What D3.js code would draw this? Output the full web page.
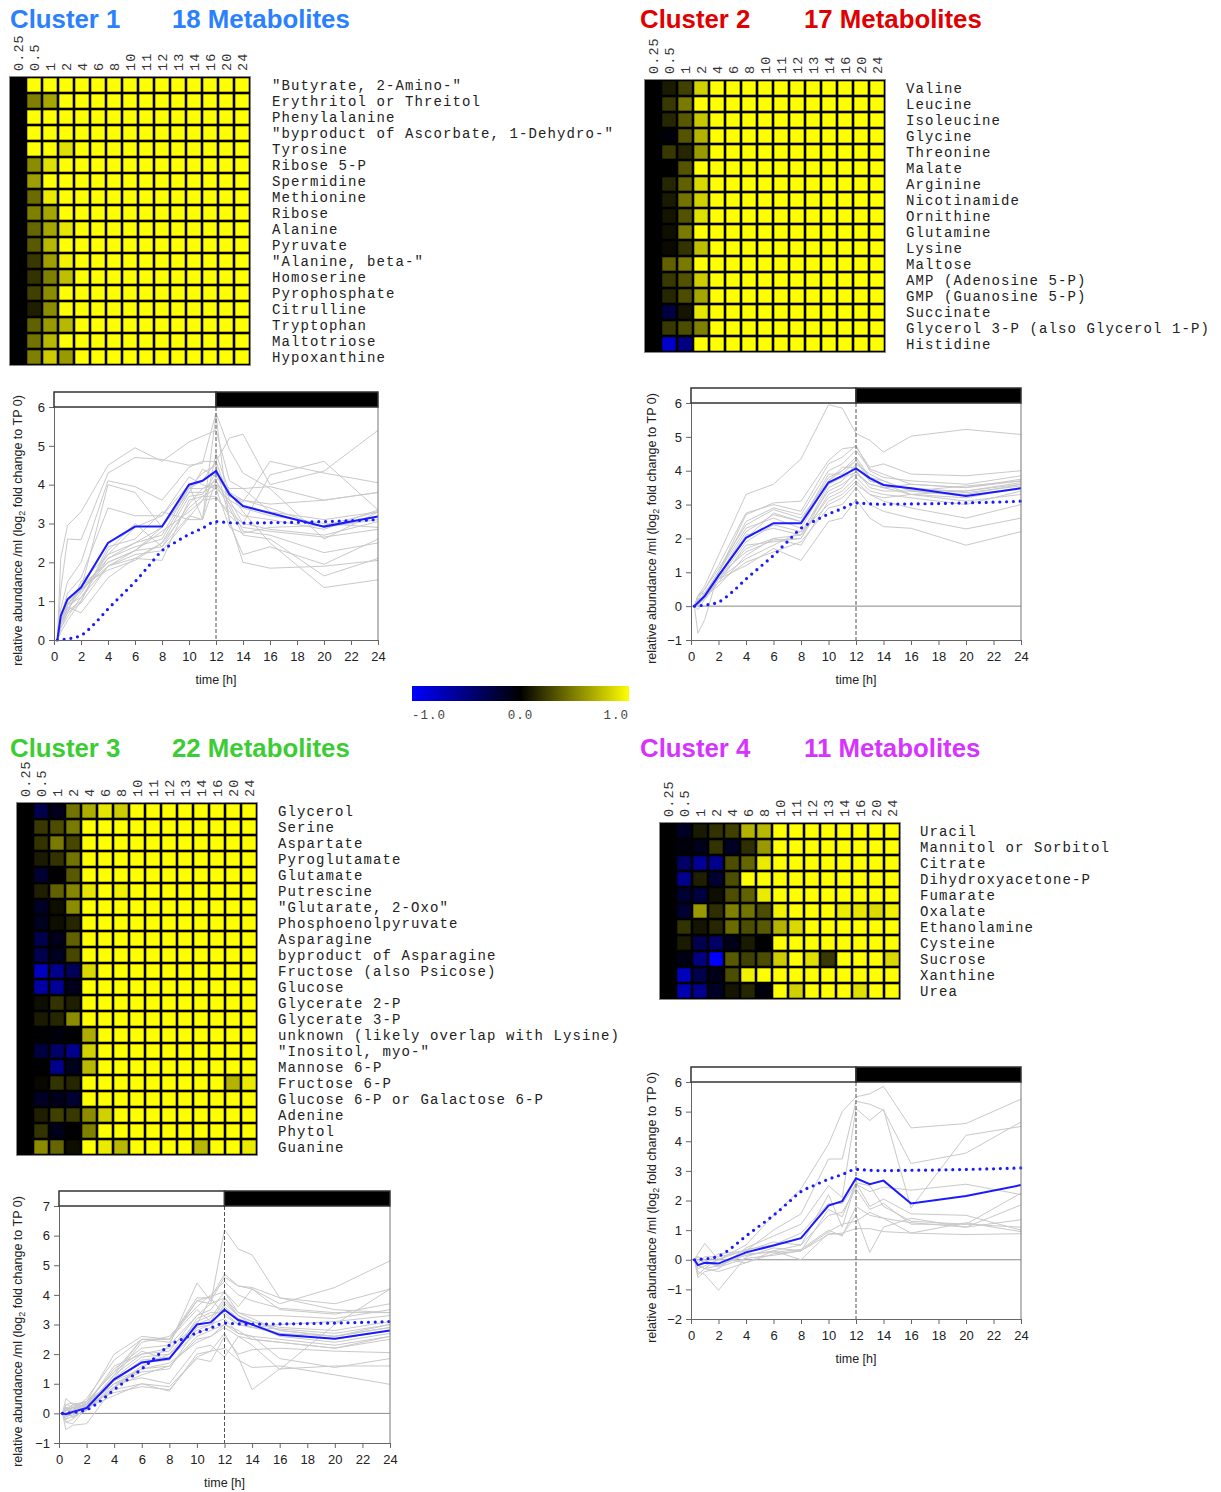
<!DOCTYPE html>
<html><head><meta charset="utf-8">
<script src="https://cdn.jsdelivr.net/npm/d3@7"></script>
<style>body{margin:0;background:#fff}svg{display:block}</style>
</head><body>
<script>
// ---------------- DATA ----------------
const timePoints = [0.25,0.5,1,2,4,6,8,10,11,12,13,14,16,20,24];
const timeLabels = ["0.25","0.5","1","2","4","6","8","10","11","12","13","14","16","20","24"];
const xTickValues = [0,2,4,6,8,10,12,14,16,18,20,22,24];
const colorTicks = ["-1.0","0.0","1.0"];

const refTimes  = [0.25,0.5,1,2,3,4,5,6,7,8,9,10,11,12,13,14,16,18,20,22,24];
const refValues = [0,0.01,0.03,0.12,0.42,0.8,1.15,1.5,1.9,2.3,2.52,2.72,2.88,3.05,3.02,3.01,3.02,3.03,3.05,3.07,3.1];

const c1Names = ["\"Butyrate, 2-Amino-\"","Erythritol or Threitol","Phenylalanine","\"byproduct of Ascorbate, 1-Dehydro-\"","Tyrosine","Ribose 5-P","Spermidine","Methionine","Ribose","Alanine","Pyruvate","\"Alanine, beta-\"","Homoserine","Pyrophosphate","Citrulline","Tryptophan","Maltotriose","Hypoxanthine"];
const c1Heat = [
[0,1,1,1,1,1,1,1,1,1,1,1,1,1,1],
[0,0.5,0.65,1,1,1,1,1,1,1,1,1,1,1,1],
[0,1,1,1,1,1,1,1,1,1,1,1,1,1,1],
[0,1,1,1,1,1,1,1,1,1,1,1,1,1,1],
[0,1,1,0.88,1,1,1,1,1,1,1,1,1,1,1],
[0,0.55,0.88,1,1,1,1,1,1,1,1,1,1,1,1],
[0,0.62,1,1,1,1,1,1,1,1,1,1,1,1,1],
[0,0.42,0.92,1,1,1,1,1,1,1,1,1,1,1,1],
[0,0.5,0.65,1,1,1,1,1,1,1,1,1,1,1,1],
[0,0.4,0.65,0.9,1,1,1,1,1,1,1,1,1,1,1],
[0,0.35,0.72,1,1,1,1,1,1,1,1,1,1,1,1],
[0,0.22,0.62,0.95,1,1,1,1,1,1,1,1,1,1,1],
[0,0.2,0.5,0.75,1,1,1,1,1,1,1,1,1,1,1],
[0,0.25,0.55,1,1,1,1,1,1,1,1,1,1,1,1],
[0,0.12,0.55,1,1,1,1,1,1,1,1,1,1,1,1],
[0,0.38,0.6,0.72,1,1,1,1,1,1,1,1,1,1,1],
[0,0.45,0.72,1,1,1,1,1,1,1,1,1,1,1,1],
[0,0.5,0.8,0.6,1,1,1,1,1,1,1,1,1,1,1]];
const c1Lines = [
[0,2.1,2.95,3.3,4.5,4.95,4.6,5.1,5.25,5.4,4.1,3.9,3.95,3.6,3.8],
[0,1.3,2.6,2.58,4.3,4.7,4.65,4.5,4.55,5.85,4.9,4.3,3.9,2.6,3.3],
[0,0.8,1.5,2.0,4.1,3.95,3.6,4.45,4.6,4.6,5.2,5.3,4.0,4.35,5.4],
[0,0.5,1.0,1.3,4.0,3.8,2.9,3.8,3.8,4.0,3.7,3.55,4.6,4.3,4.05],
[0,0.6,1.2,1.6,3.4,3.2,3.2,4.2,4.0,3.9,3.6,3.0,4.25,4.6,3.35],
[0,0.4,0.8,1.2,2.2,2.9,3.2,4.0,3.1,5.8,3.0,2.2,2.4,1.95,2.6],
[0,0.5,0.9,1.1,2.1,2.5,2.7,3.9,4.3,4.5,3.1,2.0,1.85,1.9,2.05],
[0,0.4,0.8,1.3,2.1,2.4,2.6,3.8,4.4,4.2,3.8,3.3,2.5,1.35,1.55],
[0,0.5,0.9,1.3,1.9,2.3,2.4,3.5,3.9,4.0,3.4,2.7,2.6,1.65,2.1],
[0,0.3,0.7,0.95,1.9,2.1,2.5,3.7,3.75,4.3,3.7,3.6,3.5,3.6,3.8],
[0,0.6,0.9,1.4,2.0,2.3,2.8,3.3,3.6,4.2,3.9,3.9,3.3,3.1,3.3],
[0,0.5,0.75,1.0,2.4,2.6,3.3,3.1,3.1,4.1,3.5,2.8,2.7,2.25,2.5],
[0,0.5,0.85,0.7,1.6,2.1,2.05,3.6,3.7,3.7,3.2,2.9,2.8,2.65,2.85],
[0,0.3,0.6,1.1,1.9,2.2,2.3,3.15,3.6,3.65,3.3,3.0,2.85,2.7,3.05],
[0,0.7,1.0,1.4,1.8,2.05,2.5,3.4,3.7,3.9,2.9,2.75,2.9,2.95,3.3],
[0,0.4,0.7,1.5,2.2,2.5,2.9,3.9,4.1,4.6,3.6,3.4,3.2,3.0,2.9],
[0,0.55,0.95,1.25,2.0,2.3,2.9,3.9,3.9,4.1,3.5,3.2,3.1,2.85,3.35],
[0,0.2,0.5,1.0,2.3,3.0,2.4,3.2,3.1,4.8,3.8,3.6,3.4,2.9,3.1]];
const c1Mean = [0,0.62,1.05,1.35,2.5,2.92,2.92,4.0,4.1,4.35,3.75,3.45,3.27,2.92,3.18];

const c2Names = ["Valine","Leucine","Isoleucine","Glycine","Threonine","Malate","Arginine","Nicotinamide","Ornithine","Glutamine","Lysine","Maltose","AMP (Adenosine 5-P)","GMP (Guanosine 5-P)","Succinate","Glycerol 3-P (also Glycerol 1-P)","Histidine"];
const c2Heat = [
[0,0.1,0.25,0.82,1,1,1,1,1,1,1,1,1,1,1],
[0,0.22,0.48,1,1,1,1,1,1,1,1,1,1,1,1],
[0,0.15,0.35,0.78,1,1,1,1,1,1,1,1,1,1,1],
[0,-0.03,0.33,0.7,1,1,1,1,1,1,1,1,1,1,1],
[0,0.22,0.15,0.6,1,1,1,1,1,1,1,1,1,1,1],
[0,0,0.33,1,1,1,1,1,1,1,1,1,1,1,1],
[0,0.15,0.38,0.85,1,1,1,1,1,1,1,1,1,1,1],
[0,0.1,0.45,0.82,1,1,1,1,1,1,1,1,1,1,1],
[0,0.08,0.32,0.88,1,1,1,1,1,1,1,1,1,1,1],
[0,0.06,0.48,1,1,1,1,1,1,1,1,1,1,1,1],
[0,0.04,0.2,0.75,1,1,1,1,1,1,1,1,1,1,1],
[0,0.38,0.48,1,1,1,1,1,1,1,1,1,1,1,1],
[0,0.22,0.32,0.8,1,1,1,1,1,1,1,1,1,1,1],
[0,0.15,0.3,0.65,1,1,1,1,1,1,1,1,1,1,1],
[0,-0.25,0.08,0.9,1,1,1,1,1,1,1,1,1,1,1],
[0,0.22,0.3,0.5,1,1,1,1,1,1,1,1,1,1,1],
[0,-0.8,-0.5,1,1,1,1,1,1,1,1,1,1,1,1]];
const c2Lines = [
[0,0.3,0.6,1.5,3.3,3.6,4.35,5.95,5.85,5.1,4.9,4.55,5.02,5.22,5.07],
[0,-0.8,-0.4,1.0,2.7,3.05,3.1,4.3,4.65,4.7,4.1,4.2,3.9,3.85,4.0],
[0,0.2,0.5,1.2,2.75,3.0,2.8,4.2,4.4,4.75,4.0,3.8,3.7,3.6,3.85],
[0,0.1,0.4,1.0,2.5,2.9,2.7,4.0,4.2,4.6,4.05,3.9,3.6,3.5,3.75],
[0,0.3,0.5,1.1,2.4,2.85,2.6,3.7,4.0,4.4,3.8,3.5,3.3,3.4,3.6],
[0,0.2,0.3,0.9,2.2,2.7,2.5,3.9,3.9,4.3,3.7,3.6,3.3,3.2,3.5],
[0,-0.1,0.2,0.8,1.9,2.4,2.2,3.4,3.6,3.9,3.6,3.5,3.5,3.35,3.55],
[0,0.1,0.2,0.7,1.8,1.9,2.0,3.3,3.5,4.0,3.5,3.4,3.4,3.3,3.6],
[0,0.0,0.3,0.6,1.5,2.0,2.1,3.2,3.4,3.8,3.4,3.3,3.2,3.0,3.4],
[0,0.1,0.2,0.8,1.2,1.7,1.35,2.5,2.6,3.15,2.6,2.35,2.3,1.8,2.2],
[0,0.2,0.3,0.7,1.3,1.6,1.9,2.9,3.0,3.5,3.0,2.8,2.6,2.28,2.6],
[0,0.3,0.4,0.8,1.4,1.8,2.2,3.0,3.2,3.6,3.3,3.1,2.9,2.6,3.0],
[0,0.1,0.3,0.9,1.6,1.95,2.0,3.5,3.7,4.2,3.9,3.7,3.4,3.55,3.7],
[0,0.0,0.4,0.9,2.1,2.3,2.1,3.6,3.8,3.95,3.6,3.5,3.6,3.5,3.7],
[0,0.15,0.35,1.0,2.3,2.6,2.3,3.7,4.1,4.1,3.7,3.6,3.45,3.4,3.65],
[0,0.2,0.25,0.8,1.7,2.0,1.8,3.1,3.3,3.7,3.3,3.2,3.3,3.1,3.3],
[0,0.05,0.3,0.85,2.0,2.75,2.5,3.8,4.0,4.3,3.8,3.7,3.4,3.25,3.5]];
const c2Mean = [0,0.1,0.3,0.9,2.02,2.45,2.45,3.65,3.85,4.07,3.78,3.58,3.48,3.25,3.48];

const c3Names = ["Glycerol","Serine","Aspartate","Pyroglutamate","Glutamate","Putrescine","\"Glutarate, 2-Oxo\"","Phosphoenolpyruvate","Asparagine","byproduct of Asparagine","Fructose (also Psicose)","Glucose","Glycerate 2-P","Glycerate 3-P","unknown (likely overlap with Lysine)","\"Inositol, myo-\"","Mannose 6-P","Fructose 6-P","Glucose 6-P or Galactose 6-P","Adenine","Phytol","Guanine"];
const c3Heat = [
[0,-0.3,-0.1,0.45,0.68,0.9,0.8,1,1,1,1,1,1,1,1],
[0,0.22,0.3,0.48,1,1,1,1,1,1,1,1,1,1,1],
[0,0.2,0.48,0.28,1,1,1,1,1,1,1,1,1,1,1],
[0,0.1,0.2,0.45,1,1,1,1,1,1,1,1,1,1,1],
[0,-0.2,0,0.35,1,1,1,1,1,1,1,1,1,1,1],
[0,0.12,0.38,0.52,0.9,1,0.95,1,1,1,1,1,1,1,1],
[0,-0.15,0.05,0.55,1,1,1,1,1,1,1,1,1,1,1],
[0,-0.12,0.05,0.15,1,1,1,1,1,1,1,1,1,1,1],
[0,-0.3,-0.1,0.38,1,1,1,1,1,1,1,1,1,1,1],
[0,-0.3,-0.12,0.28,1,1,1,1,1,1,1,1,1,1,1],
[0,-0.75,-0.55,-0.35,0.85,1,1,1,1,1,1,1,1,1,1],
[0,-0.65,-0.6,-0.1,1,1,1,1,1,1,1,1,1,1,1],
[0,0.05,0.2,0.12,1,1,1,1,1,1,1,1,1,1,1],
[0,0.1,0.15,0.55,1,1,1,1,1,1,1,1,1,1,1],
[0,0,-0.05,0,0.68,1,1,1,1,1,1,1,1,1,1],
[0,-0.25,-0.4,-0.55,0.82,1,1,1,1,1,1,1,1,1,1],
[0,0,-0.55,-0.12,0.72,1,1,1,1,1,1,1,1,1,1],
[0,0.03,0.2,0.15,1,1,1,1,1,1,1,1,1,0.7,0.92],
[0,-0.15,-0.1,-0.2,1,1,1,1,1,1,1,1,1,1,1],
[0,0.12,0.25,0.22,0.55,0.82,1,1,1,1,1,1,1,1,1],
[0,0.2,-0.1,0,0.5,1,1,1,1,1,1,1,1,1,1],
[0,0.55,0.4,0.05,1,0.92,0.72,1,1,1,1,0.72,1,1,0.92]];
const c3Lines = [
[0,0.5,0.3,0.4,1.4,2.5,2.5,3.8,3.7,6.2,5.55,5.35,3.9,3.5,3.4],
[0,-0.55,-0.4,-0.35,0.9,1.5,2.3,4.4,3.8,4.6,4.3,4.2,3.7,4.25,5.15],
[0,0.3,0.2,0.4,2.0,2.6,2.5,3.9,3.9,4.7,4.3,4.25,3.9,3.7,4.2],
[0,0.2,0.1,0.5,1.8,2.5,2.4,3.8,3.95,4.1,3.6,4.2,3.5,3.35,3.7],
[0,-0.2,-0.1,0.1,1.2,2.4,2.6,3.6,4.0,4.45,4.0,3.8,3.55,3.4,3.4],
[0,0.1,0.2,0.3,1.5,2.2,2.3,3.3,3.7,3.9,3.4,3.3,3.3,3.2,3.5],
[0,-0.3,-0.2,0.2,1.3,2.0,2.2,3.0,3.9,3.3,3.0,2.9,3.0,3.1,3.3],
[0,0.1,0.3,0.2,1.1,1.8,1.9,2.7,2.9,3.7,3.3,3.1,2.8,2.6,2.9],
[0,0.0,-0.1,0.1,0.9,1.6,2.0,2.8,3.0,3.2,2.7,2.6,2.5,2.3,2.6],
[0,0.2,0.15,0.3,1.0,1.5,1.7,2.4,2.6,2.9,2.6,2.5,2.4,2.2,2.6],
[0,-0.3,-0.35,0.2,0.8,1.0,0.9,1.85,1.75,2.6,2.0,2.15,2.2,2.1,2.05],
[0,0.2,0.0,0.3,0.7,0.9,0.8,1.9,2.1,2.7,1.9,0.8,1.5,1.6,1.6],
[0,-0.1,-0.05,0.2,0.6,1.0,0.75,2.0,2.1,2.2,1.8,1.55,1.6,1.3,0.98],
[0,0.1,0.2,0.1,1.0,1.2,1.0,2.2,2.3,1.9,2.6,2.3,1.48,3.0,4.2],
[0,0.0,0.1,0.3,1.2,1.9,2.0,3.1,3.3,3.5,3.1,2.9,2.7,2.6,2.9],
[0,0.15,0.25,0.4,1.4,2.1,1.8,3.2,3.4,3.4,3.0,2.9,2.85,2.7,3.0],
[0,-0.1,0.0,0.25,1.0,1.4,1.5,2.9,3.0,3.6,3.2,3.0,2.6,2.4,2.7],
[0,0.3,0.35,0.2,1.3,2.5,2.5,3.5,3.1,3.8,3.3,3.1,2.9,2.8,3.1],
[0,0.05,-0.15,0.15,0.9,1.3,1.6,2.5,2.6,3.0,2.8,2.5,2.4,2.2,2.5],
[0,0.1,0.1,0.35,1.1,1.7,1.8,3.0,3.2,3.9,3.3,3.0,2.7,2.5,2.8],
[0,-0.2,0.1,0.3,1.6,2.0,2.1,3.3,3.5,4.1,3.4,3.2,2.8,2.6,3.0],
[0,0.15,0.05,0.4,1.1,1.5,1.6,2.6,2.8,3.0,2.7,2.6,1.85,1.55,1.85]];
const c3Mean = [0,-0.03,0.05,0.18,1.15,1.72,1.85,3.0,3.07,3.5,3.15,3.0,2.65,2.52,2.8];

const c4Names = ["Uracil","Mannitol or Sorbitol","Citrate","Dihydroxyacetone-P","Fumarate","Oxalate","Ethanolamine","Cysteine","Sucrose","Xanthine","Urea"];
const c4Heat = [
[0,-0.15,0.1,0.2,0.25,0.7,0.72,1,1,1,1,1,1,1,1],
[0,-0.05,-0.1,0.2,-0.15,0.18,0.6,1,1,1,1,1,1,1,1],
[0,-0.4,-0.6,-0.55,0.3,0.4,0.92,1,1,1,1,1,1,1,1],
[0,-0.55,0.12,-0.2,0.3,1,1,1,1,1,1,1,1,1,1],
[0,-0.2,-0.25,0.05,0.3,0.38,0.92,1,1,1,1,1,1,1,1],
[0,-0.2,0.6,0.18,0.5,0.45,0.3,0.95,1,1,1,0.92,0.9,0.85,0.95],
[0,0.2,0.08,0.15,0.42,0.3,0.35,0.7,0.85,1,1,1,1,1,1],
[0,0.1,-0.3,-0.4,-0.1,0.1,0,1,1,1,1,1,1,1,1],
[0,-0.08,-0.5,-1,0.35,0.25,0.3,0.8,1,0.88,0.22,1,1,1,0.85],
[0,-0.75,-0.3,-0.1,0.3,0.95,1,1,1,1,1,1,1,1,1],
[0,-0.7,-0.55,-0.15,0.08,0.15,-0.05,1,0.82,1,1,1,0.88,1,1]];
const c4Lines = [
[0,-0.3,-0.2,0.0,0.5,1.5,2.4,3.9,5.0,5.5,5.6,5.85,4.45,4.6,5.42],
[0,0.1,-0.1,0.2,0.3,1.0,1.55,3.4,3.4,5.35,5.25,5.05,3.25,3.6,4.65],
[0,-0.6,-0.4,-0.3,0.4,0.8,1.2,2.5,2.1,5.1,4.7,5.08,1.75,4.2,4.5],
[0,0.2,0.55,0.0,0.35,0.5,0.9,1.9,1.9,2.55,2.3,2.45,2.35,2.55,2.2],
[0,-0.4,-0.5,-1.03,0.1,0.4,0.3,1.7,1.45,2.6,1.8,2.05,1.55,1.5,1.0],
[0,-0.5,-0.3,-0.2,0.15,0.3,0.0,0.9,0.85,1.5,0.25,1.1,1.4,1.1,1.85],
[0,-0.2,-0.3,-0.4,-0.1,0.2,0.3,0.95,1.2,1.3,1.6,1.4,0.9,1.25,0.95],
[0,0.0,-0.1,-0.2,0.2,0.25,0.35,1.0,0.8,1.8,1.5,1.4,1.25,1.1,1.35],
[0,-0.1,0.1,0.1,0.3,0.6,0.5,1.5,1.6,2.4,1.7,1.9,1.2,1.2,2.25],
[0,0.1,0.0,-0.25,0.05,0.15,0.3,0.85,0.9,1.05,1.05,0.95,0.9,0.85,0.88],
[0,-0.2,-0.3,0.05,-0.1,0.3,0.5,2.2,1.1,2.6,2.5,1.8,1.3,1.2,1.1]];
const c4Mean = [0,-0.18,-0.1,-0.13,0.25,0.48,0.73,1.83,1.98,2.75,2.55,2.67,1.9,2.15,2.52];

// ---------------- LAYOUT ----------------
const W = 1221, H = 1492;
const svg = d3.select("body").append("svg").attr("width", W).attr("height", H);
const mono = "'Liberation Mono','Courier New',monospace";
const sans = "'Liberation Sans',Arial,sans-serif";
const heatColor = d3.scaleLinear().domain([-1,0,1]).range(["#0000ff","#000000","#ffff00"]).clamp(true);

const clusters = [
  {title:"Cluster 1", count:"18 Metabolites", color:"#2a80ff", tx:10, ty:28, cx:172,
   names:c1Names, heat:c1Heat, lines:c1Lines, mean:c1Mean,
   hx:10, hy:77, lx:272,
   p:{x0:54, x1:378, yt:407, yb:640, dom:[0,6], ylx:22}},
  {title:"Cluster 2", count:"17 Metabolites", color:"#e00000", tx:640, ty:28, cx:804,
   names:c2Names, heat:c2Heat, lines:c2Lines, mean:c2Mean,
   hx:645, hy:80, lx:906,
   p:{x0:691, x1:1021, yt:403, yb:640, dom:[-1,6], ylx:656}},
  {title:"Cluster 3", count:"22 Metabolites", color:"#3ccc33", tx:10, ty:757, cx:172,
   names:c3Names, heat:c3Heat, lines:c3Lines, mean:c3Mean,
   hx:17, hy:803, lx:278,
   p:{x0:59, x1:390, yt:1206, yb:1443, dom:[-1,7], ylx:22}},
  {title:"Cluster 4", count:"11 Metabolites", color:"#d633ff", tx:640, ty:757, cx:804,
   names:c4Names, heat:c4Heat, lines:c4Lines, mean:c4Mean,
   hx:660, hy:823, lx:920,
   p:{x0:691, x1:1021, yt:1082, yb:1319, dom:[-2,6], ylx:656}}
];

function drawTitle(c){
  const g = svg.append("g").attr("font-family", sans).attr("font-weight","bold")
    .attr("font-size", 25.8).attr("fill", c.color);
  g.append("text").attr("x", c.tx).attr("y", c.ty).text(c.title);
  g.append("text").attr("x", c.cx).attr("y", c.ty).text(c.count);
}

function drawHeatmap(c){
  const cell = 16;
  const x = d3.scaleBand().domain(timeLabels).range([c.hx, c.hx + cell*timeLabels.length]);
  const y = d3.scaleBand().domain(c.names).range([c.hy, c.hy + cell*c.names.length]);
  const g = svg.append("g");
  g.append("rect").attr("x", c.hx-0.5).attr("y", c.hy-0.5)
    .attr("width", x.range()[1]-x.range()[0]+1).attr("height", y.range()[1]-y.range()[0]+1)
    .attr("fill","#000").attr("stroke","#888").attr("stroke-width",0.8);
  const inset = 1.3;
  c.heat.forEach((row,i)=>{
    g.selectAll(null).data(row).enter().append("rect")
      .attr("x",(v,j)=> x(timeLabels[j]) + inset)
      .attr("y", y(c.names[i]) + inset)
      .attr("width", x.bandwidth() - 2*inset)
      .attr("height", y.bandwidth() - 2*inset)
      .attr("fill", v => heatColor(v));
  });
  // column labels
  g.selectAll(null).data(timeLabels).enter().append("text")
    .attr("transform", d => `translate(${x(d)+x.bandwidth()/2+0.5},${c.hy-6}) rotate(-90)`)
    .attr("dy","0.35em").attr("font-family", mono).attr("font-size",13.5)
    .attr("letter-spacing",1.1).attr("fill","#333")
    .text(d=>d);
  // row labels
  g.selectAll(null).data(c.names).enter().append("text")
    .attr("x", c.lx).attr("y", d => y(d) + y.bandwidth()/2 + 4.5)
    .attr("font-family", mono).attr("font-size",14).attr("letter-spacing",1.1).attr("fill","#222")
    .attr("xml:space","preserve").style("white-space","pre")
    .text(d=>d);
}

function drawLineChart(c){
  const p = c.p;
  const x = d3.scaleLinear().domain([0,24]).range([p.x0, p.x1]);
  const y = d3.scaleLinear().domain(p.dom).range([p.yb, p.yt]);
  const g = svg.append("g");
  const yTicks = d3.range(p.dom[0], p.dom[1]+1);
  if (p.dom[0] < 0) {
    g.append("line").attr("x1",x(0)).attr("x2",x(24)).attr("y1",y(0)).attr("y2",y(0))
      .attr("stroke","#8a8a8a").attr("stroke-width",1);
  }
  const line = d3.line().x((d,i)=>x(timePoints[i])).y(d=>y(d));
  g.selectAll(null).data(c.lines).enter().append("path")
    .attr("d", line).attr("fill","none").attr("stroke","#c9c9c9").attr("stroke-width",1);
  g.append("line").attr("x1",x(12)).attr("x2",x(12)).attr("y1",y(p.dom[1])).attr("y2",y(p.dom[0]))
    .attr("stroke","#555").attr("stroke-width",1).attr("stroke-dasharray","4,2");
  const refLine = d3.line().x((d,i)=>x(refTimes[i])).y(d=>y(d)).curve(d3.curveMonotoneX);
  g.append("path").attr("d", refLine(refValues)).attr("fill","none")
    .attr("stroke","#1a1aff").attr("stroke-width",3.2).attr("stroke-linecap","round")
    .attr("stroke-dasharray","0,6.8");
  g.append("path").attr("d", line(c.mean)).attr("fill","none")
    .attr("stroke","#1a1aff").attr("stroke-width",2);
  g.append("line").attr("x1",x(24)).attr("x2",x(24)).attr("y1",y(p.dom[1])).attr("y2",y(p.dom[0]))
    .attr("stroke","#777").attr("stroke-width",1);
  const ax = g.append("g").attr("transform",`translate(0,${p.yb})`)
    .call(d3.axisBottom(x).tickValues(xTickValues).tickSize(5).tickPadding(7).tickFormat(d3.format("d")));
  const ay = g.append("g").attr("transform",`translate(${p.x0},0)`)
    .call(d3.axisLeft(y).tickValues(yTicks).tickSize(5).tickPadding(4).tickFormat(d3.format("d")));
  [ax, ay].forEach(a=>{
    a.select(".domain").attr("stroke","#666");
    a.selectAll(".tick line").attr("stroke","#666");
    a.selectAll(".tick text").attr("font-family",sans).attr("font-size",13).attr("fill","#222");
  });
  const bt = y(p.dom[1]) - 15;
  g.append("rect").attr("x",x(0)).attr("y",bt).attr("width",x(12)-x(0)).attr("height",15)
    .attr("fill","#fff").attr("stroke","#333").attr("stroke-width",1.5);
  g.append("rect").attr("x",x(12)).attr("y",bt).attr("width",x(24)-x(12)).attr("height",15)
    .attr("fill","#000").attr("stroke","#333").attr("stroke-width",1.5);
  g.append("text").attr("x",(x(0)+x(24))/2).attr("y",p.yb+44).attr("text-anchor","middle")
    .attr("font-family",sans).attr("font-size",12.5).attr("fill","#222").text("time [h]");
  const yl = g.append("text")
    .attr("transform",`translate(${p.ylx},${(p.yt+p.yb)/2+7}) rotate(-90)`)
    .attr("text-anchor","middle").attr("font-family",sans).attr("font-size",12.5).attr("fill","#222");
  yl.append("tspan").text("relative abundance /ml (log");
  yl.append("tspan").attr("font-size",9).attr("dy",3).text("2");
  yl.append("tspan").attr("dy",-3).text(" fold change to TP 0)");
}

function drawColorBar(){
  const defs = svg.append("defs");
  const grad = defs.append("linearGradient").attr("id","cb");
  [-1,-0.5,0,0.5,1].forEach(v=>{
    grad.append("stop").attr("offset", ((v+1)/2*100)+"%").attr("stop-color", heatColor(v));
  });
  const cx = d3.scaleLinear().domain([-1,1]).range([412,629]);
  svg.append("rect").attr("x",cx(-1)).attr("y",686).attr("width",cx(1)-cx(-1)).attr("height",15)
    .attr("fill","url(#cb)");
  const anchors = ["start","middle","end"];
  svg.selectAll(null).data(colorTicks).enter().append("text")
    .attr("x",(d)=>cx(+d)).attr("y",719).attr("text-anchor",(d,i)=>anchors[i])
    .attr("font-family",mono).attr("font-size",12.5).attr("letter-spacing",1)
    .attr("fill","#444").text(d=>d);
}

clusters.forEach(c=>{ drawTitle(c); drawHeatmap(c); drawLineChart(c); });
drawColorBar();
</script>
</body></html>
